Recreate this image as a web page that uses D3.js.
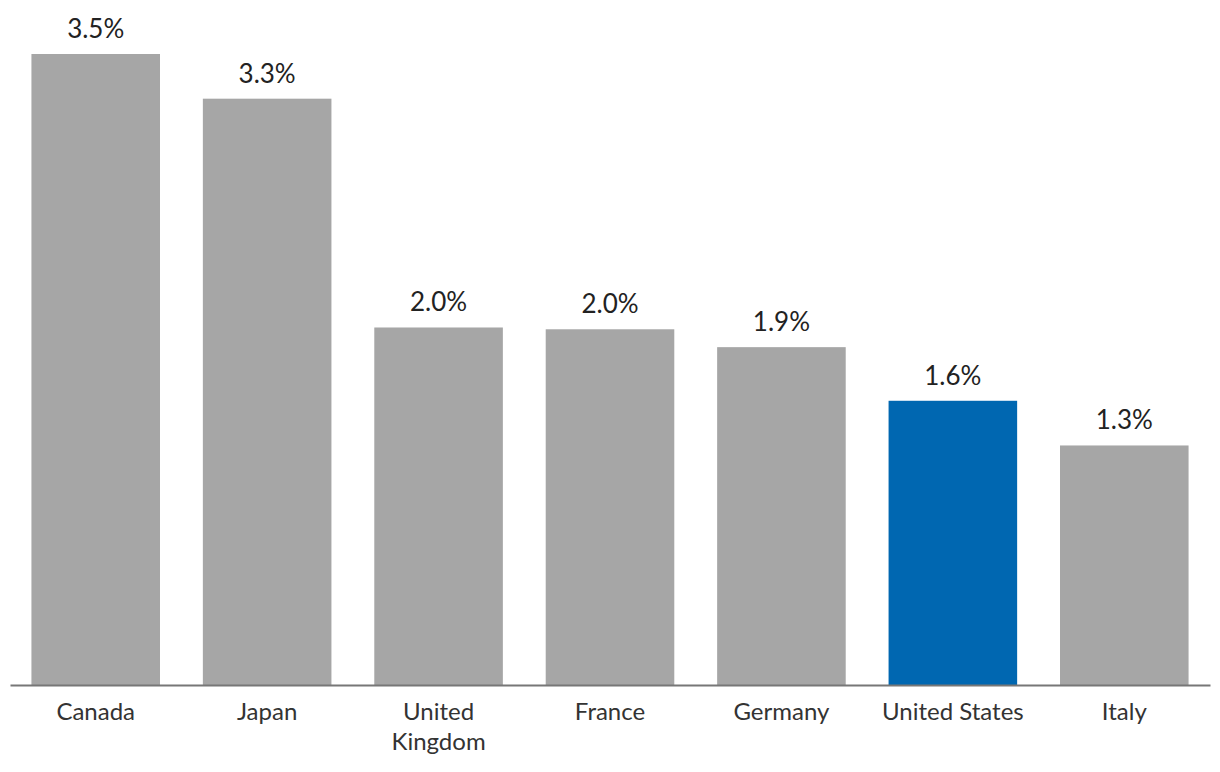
<!DOCTYPE html>
<html>
<head>
<meta charset="utf-8">
<script src="https://cdn.jsdelivr.net/npm/d3@7"></script>
<style>
  html, body { margin: 0; padding: 0; background: #fff; }
  svg { display: block; }
  svg text { font-family: Lato, "Open Sans", sans-serif; }
</style>
</head>
<body>
<svg id="chart" width="1220" height="772"></svg>
<script>
const categories = ["Canada", "Japan", "United Kingdom", "France", "Germany", "United States", "Italy"];
const values = [3.53, 3.28, 2.0, 1.99, 1.89, 1.59, 1.34];
const valueLabels = ["3.5%", "3.3%", "2.0%", "2.0%", "1.9%", "1.6%", "1.3%"];
const highlight = ["United States"];

const svg = d3.select("#chart");
const baseline = 685;
const x = d3.scaleBand().domain(categories).range([10, 1210]).paddingInner(0.25).paddingOuter(0.125);
const y = d3.scaleLinear().domain([0, 3.53]).range([baseline, 54]);

svg.selectAll("rect.bar").data(categories).join("rect")
  .attr("class", "bar")
  .attr("x", d => x(d))
  .attr("width", x.bandwidth())
  .attr("y", (d, i) => y(values[i]))
  .attr("height", (d, i) => baseline - y(values[i]))
  .attr("fill", d => highlight.includes(d) ? "#0067b1" : "#a6a6a6");

svg.selectAll("text.val").data(categories).join("text")
  .attr("class", "val")
  .attr("x", d => x(d) + x.bandwidth() / 2)
  .attr("y", (d, i) => y(values[i]) - 16)
  .attr("text-anchor", "middle")
  .attr("font-size", 26)
  .attr("fill", "#222")
  .text((d, i) => valueLabels[i]);

const axis = d3.axisBottom(x).tickSize(0).tickPadding(0);
const g = svg.append("g").attr("transform", `translate(0,${baseline})`).call(axis);
g.attr("font-family", null).attr("font-size", null);
g.select(".domain").attr("stroke", "#777").attr("stroke-width", 2);
g.selectAll(".tick text").remove();
g.selectAll(".tick").each(function(d) {
  const t = d3.select(this).append("text")
    .attr("text-anchor", "middle")
    .attr("font-size", 24)
    .attr("fill", "#333")
    .attr("y", 35);
  const words = d === "United Kingdom" ? ["United", "Kingdom"] : [d];
  words.forEach((w, i) => t.append("tspan").attr("x", 0).attr("dy", i === 0 ? 0 : 30).text(w));
});
</script>
</body>
</html>
